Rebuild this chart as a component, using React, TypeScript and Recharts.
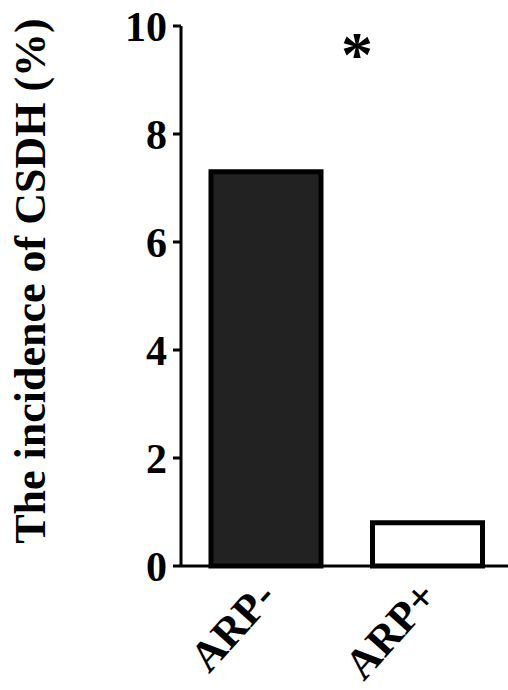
import { BarChart, Bar, XAxis, YAxis, Cell } from 'recharts';

const categories = ['ARP-', 'ARP+'];
const incidence = [7.3, 0.8];
const barFills = ['#222222', '#ffffff'];
const yTicks = [0, 2, 4, 6, 8, 10];
const yLabel = 'The incidence of CSDH (%)';
const significance = '*';

const font = '"Liberation Serif", "Times New Roman", serif';

const data = categories.map((name, i) => ({ name, value: incidence[i] }));

const XTick = ({ x, y, payload }: any) => (
  <text
    transform={`translate(${x + 12},${y + 24}) rotate(-48)`}
    textAnchor="end"
    fontSize={43}
    fontWeight="bold"
    fontFamily={font}
    fill="#000"
  >
    {payload.value}
  </text>
);

const YLabel = ({ viewBox }: any) => {
  const cx = viewBox.x + 45;
  const cy = viewBox.y + viewBox.height / 2 - 15;
  return (
    <text
      transform={`translate(${cx},${cy}) rotate(-90)`}
      textAnchor="middle"
      fontSize={44}
      fontWeight="bold"
      fontFamily={font}
      fill="#000"
    >
      {yLabel}
    </text>
  );
};

const App = () => {
  return (
    <div style={{ position: 'absolute', left: 0, top: 0, width: 508, height: 690, background: '#fff', overflow: 'hidden' }}>
      <BarChart
        width={508}
        height={690}
        data={data}
        margin={{ top: 26, right: 0, bottom: 0, left: 0 }}
        barSize={110}
      >
        <XAxis
          dataKey="name"
          interval={0}
          height={124}
          padding={{ left: 4, right: 0 }}
          tickLine={false}
          axisLine={{ stroke: '#000', strokeWidth: 3 }}
          tick={<XTick />}
        />
        <YAxis
          domain={[0, 10]}
          ticks={yTicks}
          width={181}
          tickSize={8}
          tickMargin={6}
          axisLine={{ stroke: '#000', strokeWidth: 3 }}
          tickLine={{ stroke: '#000', strokeWidth: 3 }}
          tick={{ fontSize: 42, fontWeight: 'bold', fill: '#000', fontFamily: font }}
          label={<YLabel />}
        />
        <Bar dataKey="value" stroke="#000" strokeWidth={5} isAnimationActive={false}>
          {data.map((d, i) => (
            <Cell key={d.name} fill={barFills[i]} />
          ))}
        </Bar>
        <text
          x={357}
          y={76}
          textAnchor="middle"
          fontSize={64}
          fontWeight="bold"
          fontFamily={font}
          fill="#000"
        >
          {significance}
        </text>
      </BarChart>
    </div>
  );
};

export default App;
